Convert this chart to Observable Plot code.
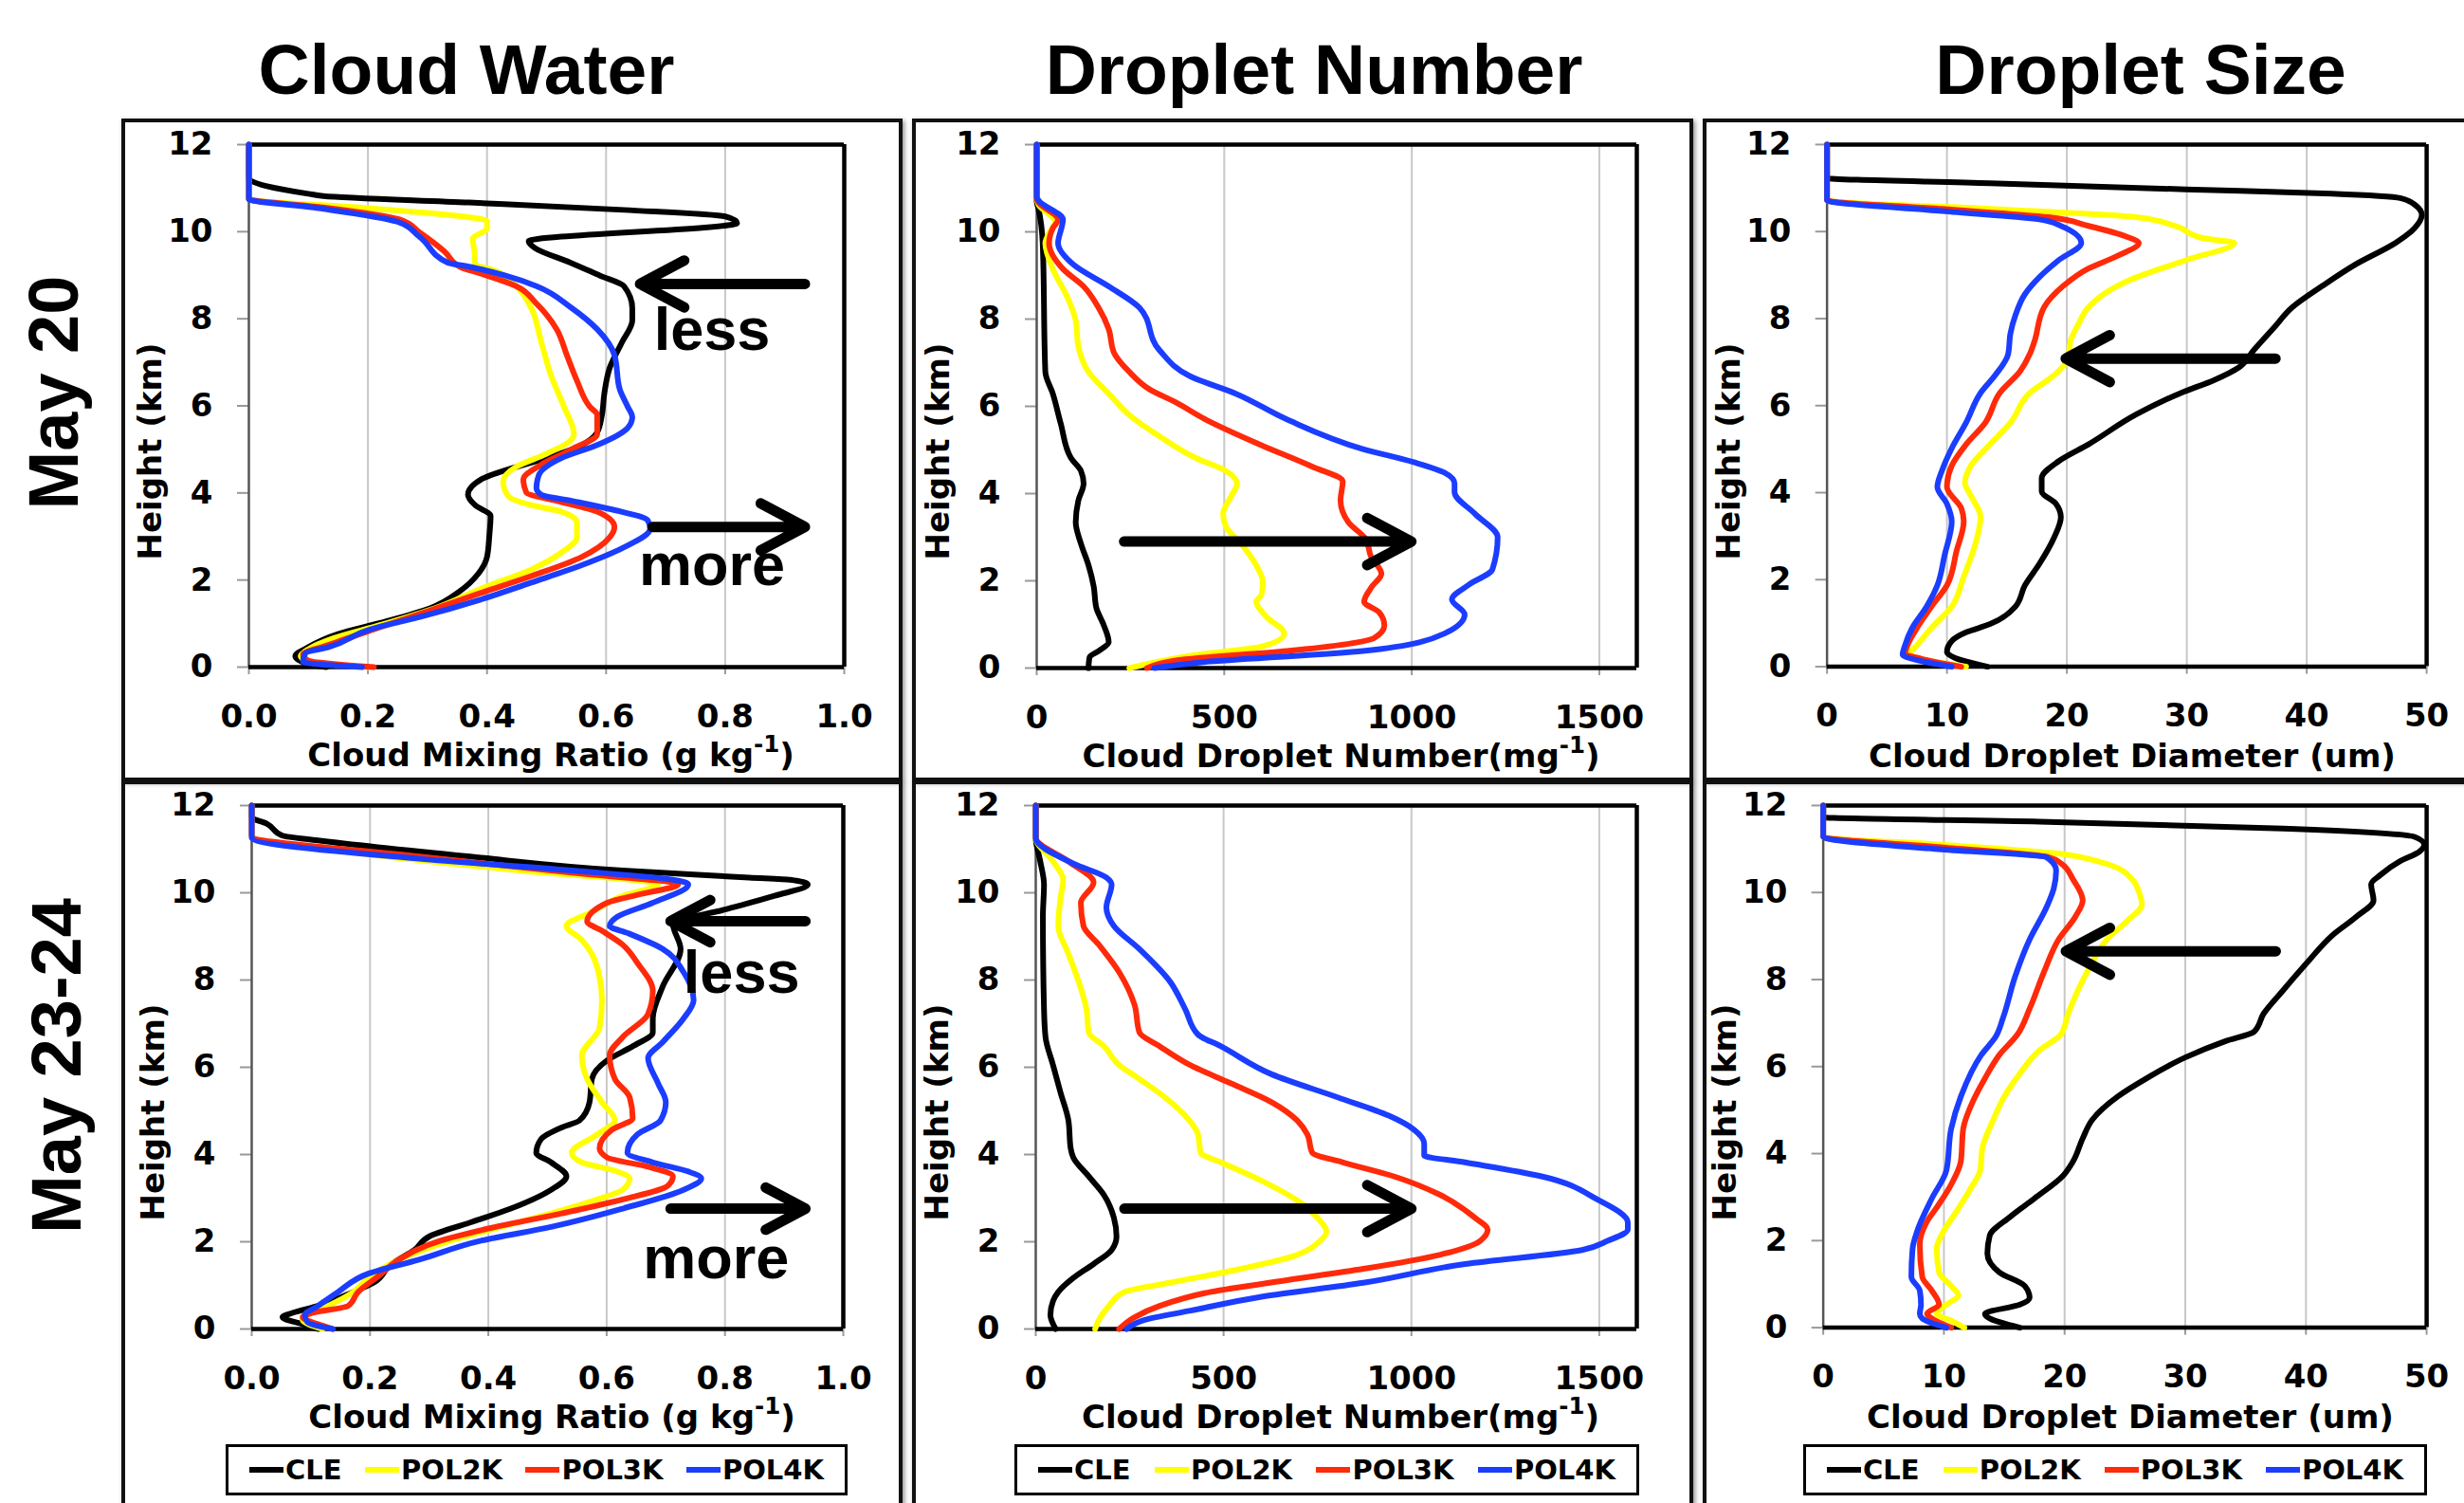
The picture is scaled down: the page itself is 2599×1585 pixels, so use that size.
<!DOCTYPE html>
<html><head><meta charset="utf-8">
<script src="https://cdn.jsdelivr.net/npm/d3@7"></script>
<script src="https://cdn.jsdelivr.net/npm/@observablehq/plot@0.6"></script>
<style>
html,body{margin:0;padding:0;background:#fff;}
body{width:2599px;height:1585px;overflow:hidden;position:relative;font-family:"Liberation Sans",Arial,sans-serif;color:#000;}
.frame{position:absolute;border:4px solid #111;box-sizing:border-box;box-shadow:2px 2px 5px rgba(0,0,0,0.45);}
.coltitle{position:absolute;font-weight:bold;font-size:75px;line-height:1;transform:translateX(-50%);white-space:nowrap;}
.rowlabel{position:absolute;font-weight:bold;font-size:74px;line-height:1;white-space:nowrap;transform:translate(-50%,-50%) rotate(-90deg);}
.panel{position:absolute;}
.panel svg{overflow:visible;}
.xtitle,.ytitle{position:absolute;font-family:"DejaVu Sans",sans-serif;font-weight:bold;font-size:34px;line-height:1;white-space:nowrap;}
.xtitle{transform:translate(-50%,-50%);}
.ytitle{transform:translate(-50%,-50%) rotate(-90deg);}
.xtitle sup{font-size:0.72em;vertical-align:0.6em;line-height:0;}
.legend{position:absolute;border:3px solid #000;box-sizing:border-box;display:flex;align-items:center;justify-content:space-between;padding:0 22px;font-family:"DejaVu Sans",sans-serif;font-weight:bold;font-size:29px;}
.legend .item{display:flex;align-items:center;white-space:nowrap;}
.legend .sw{display:inline-block;width:36px;height:6px;margin-right:2px;}
</style>
</head><body>
<script>
// ---------------- data ----------------
const seriesNames = ["CLE", "POL2K", "POL3K", "POL4K"];
const seriesColors = ["#000000", "#ffff00", "#ff2a0a", "#1b3dff"];
const columnTitles = ["Cloud Water", "Droplet Number", "Droplet Size"];
const rowLabels = ["May 20", "May 23-24"];
const xTitles = ["Cloud Mixing Ratio (g kg<sup>-1</sup>)", "Cloud Droplet Number(mg<sup>-1</sup>)", "Cloud Droplet Diameter (um)"];
const yTitle = "Height (km)";
const heightTicks = [0, 2, 4, 6, 8, 10, 12];
const cwTicks = [0, 0.2, 0.4, 0.6, 0.8, 1.0];
const dnTicks = [0, 500, 1000, 1500];
const dsTicks = [0, 10, 20, 30, 40, 50];

// May 20 – cloud water (g/kg) : [value, height km]
const cw20_CLE = [[0,12],[0,11.23],[0.10,10.87],[0.125,10.82],[0.37,10.67],[0.63,10.5],[0.80,10.35],[0.82,10.2],[0.47,9.78],[0.48,9.63],[0.54,9.29],[0.59,8.99],[0.63,8.75],[0.644,8.25],[0.644,7.96],[0.627,7.47],[0.606,6.87],[0.597,6.28],[0.593,5.79],[0.585,5.39],[0.559,5.10],[0.50,4.80],[0.44,4.56],[0.39,4.31],[0.368,3.96],[0.38,3.72],[0.406,3.47],[0.404,3.03],[0.40,2.53],[0.385,2.14],[0.355,1.75],[0.304,1.35],[0.219,1.01],[0.15,0.76],[0.10,0.46],[0.078,0.25],[0.10,0.07],[0.13,0]];
const cw20_POL2K = [[0,12],[0,10.75],[0.2,10.54],[0.37,10.33],[0.40,10.25],[0.40,10.08],[0.376,9.83],[0.379,9.54],[0.38,9.24],[0.406,9.14],[0.449,8.75],[0.474,8.25],[0.491,7.47],[0.508,6.68],[0.529,5.99],[0.546,5.35],[0.54,5.2],[0.50,4.9],[0.449,4.6],[0.427,4.26],[0.436,3.92],[0.474,3.72],[0.525,3.57],[0.551,3.32],[0.551,2.98],[0.525,2.63],[0.474,2.24],[0.397,1.84],[0.312,1.35],[0.219,0.96],[0.142,0.66],[0.10,0.41],[0.087,0.25],[0.10,0.12],[0.2,0]];
const cw20_POL3K = [[0,12],[0,10.75],[0.117,10.57],[0.253,10.28],[0.287,9.98],[0.329,9.54],[0.355,9.19],[0.389,9.04],[0.449,8.75],[0.483,8.35],[0.517,7.76],[0.534,7.17],[0.551,6.58],[0.572,5.99],[0.585,5.79],[0.585,5.35],[0.542,5.0],[0.491,4.65],[0.461,4.31],[0.466,4.01],[0.517,3.82],[0.585,3.57],[0.614,3.22],[0.606,2.98],[0.559,2.53],[0.474,2.09],[0.389,1.70],[0.304,1.30],[0.219,0.91],[0.134,0.51],[0.091,0.29],[0.10,0.15],[0.21,0]];
const cw20_POL4K = [[0,12],[0,10.75],[0.117,10.54],[0.249,10.23],[0.287,9.88],[0.334,9.29],[0.372,9.19],[0.431,8.99],[0.483,8.75],[0.542,8.25],[0.585,7.76],[0.614,7.17],[0.623,6.38],[0.636,5.99],[0.644,5.74],[0.636,5.49],[0.585,5.10],[0.525,4.80],[0.487,4.41],[0.483,4.11],[0.491,3.96],[0.542,3.82],[0.610,3.62],[0.670,3.37],[0.674,3.18],[0.627,2.73],[0.559,2.34],[0.474,1.94],[0.389,1.55],[0.287,1.15],[0.202,0.86],[0.134,0.46],[0.095,0.32],[0.091,0.12],[0.19,0]];

// May 20 – droplet number (1/mg)
const dn20_CLE = [[0,12],[0,10.7],[5,10.52],[16,9.74],[23,6.79],[43,6.29],[64,5.61],[91,4.82],[118,4.52],[125,4.23],[111,3.84],[104,3.34],[118,2.85],[138,2.36],[152,1.87],[159,1.38],[179,0.98],[192,0.59],[165,0.39],[141,0.25],[138,0]];
const dn20_POL2K = [[0,12],[0,10.75],[5,10.62],[50,10.23],[37,10.03],[23,9.74],[43,9.15],[84,8.46],[104,7.97],[111,7.38],[138,6.79],[192,6.29],[247,5.80],[328,5.31],[423,4.82],[504,4.52],[534,4.23],[518,3.93],[497,3.54],[504,3.25],[545,2.85],[585,2.36],[603,1.97],[599,1.67],[585,1.52],[612,1.18],[660,0.79],[599,0.49],[423,0.30],[247,0]];
const dn20_POL3K = [[0,12],[0,10.75],[5,10.67],[57,10.28],[43,10.08],[33,9.74],[70,9.15],[125,8.75],[165,8.26],[192,7.77],[206,7.23],[247,6.79],[301,6.39],[369,6.10],[450,5.70],[599,5.11],[734,4.62],[816,4.28],[810,3.84],[831,3.34],[878,2.95],[891,2.56],[919,2.16],[894,1.87],[873,1.52],[913,1.28],[927,0.98],[900,0.69],[667,0.39],[396,0.20],[294,0]];
const dn20_POL4K = [[0,12],[0,10.8],[5,10.72],[70,10.28],[57,9.74],[98,9.25],[192,8.75],[274,8.26],[328,7.28],[409,6.69],[531,6.29],[667,5.70],[870,5.02],[1005,4.72],[1087,4.48],[1114,4.23],[1114,4.03],[1168,3.54],[1229,3.0],[1215,2.26],[1154,1.92],[1107,1.57],[1141,1.23],[1087,0.79],[870,0.39],[463,0.15],[314,0]];

// May 20 – droplet diameter (um)
const ds20_CLE = [[0,12],[0,11.23],[13.6,11.11],[29.9,10.97],[42.1,10.87],[47.8,10.77],[49.0,10.62],[49.6,10.38],[49.0,10.08],[47.4,9.74],[44.1,9.25],[41.3,8.75],[38.8,8.26],[37.2,7.77],[35.6,7.28],[34.4,6.89],[32.3,6.59],[29.5,6.29],[25.8,5.80],[21.8,5.11],[19.3,4.72],[17.9,4.33],[17.9,4.03],[19.1,3.74],[19.5,3.44],[18.9,2.95],[17.7,2.36],[16.5,1.87],[15.7,1.38],[13.6,0.98],[11.6,0.79],[10.4,0.59],[10.0,0.34],[11.2,0.15],[13.4,0]];
const ds20_POL2K = [[0,12],[0,10.72],[13.6,10.52],[25.8,10.33],[29.0,10.13],[31.5,9.84],[33.96,9.74],[29.9,9.34],[25.8,8.95],[24.2,8.75],[21.8,8.26],[20.96,7.87],[20.3,7.48],[20.1,7.08],[18.9,6.69],[16.9,6.29],[15.3,5.61],[13.6,5.11],[12.0,4.62],[11.5,4.23],[12.0,3.93],[12.8,3.44],[12.4,2.85],[11.4,2.07],[10.4,1.38],[8.7,0.89],[7.5,0.49],[6.9,0.30],[8.3,0.15],[11.6,0]];
const ds20_POL3K = [[0,12],[0,10.72],[9.6,10.52],[18.5,10.33],[21.8,10.13],[25.0,9.88],[26.0,9.74],[24.2,9.44],[21.8,9.15],[19.7,8.75],[18.1,8.26],[17.3,7.48],[16.9,7.18],[16.1,6.79],[14.4,6.29],[13.2,5.61],[11.6,5.11],[10.4,4.62],[10.0,4.13],[11.2,3.64],[11.4,3.34],[10.8,2.66],[10.0,1.87],[8.7,1.38],[7.5,0.89],[6.7,0.49],[6.5,0.30],[7.9,0.18],[11.2,0]];
const ds20_POL4K = [[0,12],[0,10.72],[9.6,10.47],[17.7,10.28],[19.5,10.13],[21.2,9.74],[19.3,9.34],[17.7,8.95],[16.5,8.56],[15.7,8.07],[15.3,7.67],[15.1,7.18],[14.0,6.69],[12.8,6.29],[11.6,5.61],[10.4,5.02],[9.6,4.52],[9.2,4.13],[10.0,3.74],[10.4,3.34],[9.8,2.56],[9.2,1.87],[8.3,1.38],[7.1,0.89],[6.5,0.49],[6.3,0.28],[7.5,0.15],[10.4,0]];

// May 23-24 – cloud water
const cw23_CLE = [[0,12],[0,11.73],[0.026,11.58],[0.052,11.31],[0.112,11.2],[0.369,10.83],[0.627,10.51],[0.841,10.35],[0.91,10.30],[0.94,10.19],[0.884,9.93],[0.798,9.61],[0.712,9.29],[0.725,8.71],[0.695,7.86],[0.678,7.12],[0.678,6.80],[0.644,6.48],[0.601,6.16],[0.575,5.73],[0.571,5.20],[0.554,4.78],[0.524,4.62],[0.489,4.35],[0.481,4.04],[0.506,3.82],[0.532,3.50],[0.506,3.19],[0.438,2.76],[0.369,2.44],[0.30,2.12],[0.275,1.81],[0.236,1.49],[0.206,1.06],[0.172,0.85],[0.112,0.53],[0.069,0.37],[0.052,0.27],[0.086,0.11],[0.112,0]];
const cw23_POL2K = [[0,12],[0,11.31],[0.197,10.88],[0.455,10.51],[0.687,10.19],[0.627,9.93],[0.575,9.56],[0.532,9.24],[0.558,8.92],[0.575,8.60],[0.588,8.07],[0.592,7.54],[0.588,6.90],[0.558,6.27],[0.567,5.73],[0.592,5.20],[0.614,4.78],[0.584,4.46],[0.541,4.04],[0.558,3.82],[0.618,3.61],[0.639,3.45],[0.627,3.19],[0.584,2.97],[0.506,2.65],[0.421,2.34],[0.335,2.02],[0.249,1.59],[0.197,1.17],[0.172,0.85],[0.129,0.53],[0.094,0.32],[0.086,0.21],[0.12,0]];
const cw23_POL3K = [[0,12],[0,11.31],[0.283,10.83],[0.541,10.46],[0.721,10.19],[0.661,9.98],[0.601,9.77],[0.567,9.34],[0.592,9.13],[0.627,8.81],[0.652,8.39],[0.678,7.75],[0.67,7.22],[0.627,6.69],[0.605,6.27],[0.614,5.73],[0.639,5.31],[0.644,4.83],[0.609,4.57],[0.588,4.14],[0.601,3.93],[0.67,3.72],[0.712,3.50],[0.704,3.29],[0.627,2.97],[0.524,2.65],[0.412,2.34],[0.318,2.02],[0.249,1.59],[0.215,1.22],[0.18,0.85],[0.163,0.53],[0.103,0.37],[0.086,0.27],[0.112,0.11],[0.137,0]];
const cw23_POL4K = [[0,12],[0,11.26],[0.283,10.78],[0.541,10.51],[0.712,10.30],[0.738,10.19],[0.678,9.77],[0.618,9.45],[0.605,9.24],[0.635,9.08],[0.695,8.71],[0.73,8.18],[0.747,7.54],[0.73,7.12],[0.695,6.58],[0.67,6.21],[0.687,5.63],[0.70,5.20],[0.691,4.78],[0.652,4.46],[0.635,4.04],[0.678,3.82],[0.738,3.61],[0.76,3.45],[0.73,3.19],[0.627,2.76],[0.506,2.34],[0.386,2.02],[0.283,1.59],[0.197,1.27],[0.146,0.85],[0.112,0.53],[0.09,0.32],[0.094,0.16],[0.137,0]];

// May 23-24 – droplet number
const dn23_CLE = [[0,12],[0,11.26],[12,10.72],[22,10.19],[19,9.45],[22,7.33],[26,6.69],[46,6.05],[66,5.42],[87,4.78],[93,4.14],[100,3.93],[141,3.50],[181,3.08],[208,2.55],[215,2.12],[202,1.81],[154,1.49],[100,1.17],[60,0.85],[46,0.64],[39,0.32],[53,0]];
const dn23_POL2K = [[0,12],[0,11.26],[46,10.72],[73,10.30],[66,9.88],[60,9.24],[87,8.60],[114,7.97],[135,7.33],[141,6.80],[182,6.48],[222,6.05],[276,5.73],[344,5.31],[398,4.89],[432,4.46],[439,4.04],[493,3.82],[601,3.40],[709,2.87],[750,2.55],[774,2.23],[757,2.02],[696,1.70],[547,1.38],[357,1.06],[236,0.85],[195,0.53],[168,0.21],[158,0]];
const dn23_POL3K = [[0,12],[0,11.26],[87,10.72],[154,10.24],[120,9.77],[127,9.24],[168,8.81],[222,8.18],[263,7.43],[276,6.80],[330,6.48],[411,6.05],[520,5.63],[628,5.20],[696,4.78],[723,4.46],[736,4.04],[818,3.82],[953,3.50],[1075,3.08],[1169,2.55],[1203,2.28],[1183,2.02],[1075,1.70],[872,1.38],[669,1.12],[466,0.85],[330,0.53],[263,0.27],[222,0]];
const dn23_POL4K = [[0,12],[0,11.26],[100,10.67],[188,10.35],[202,10.19],[188,9.66],[208,9.24],[276,8.71],[357,7.97],[398,7.33],[432,6.75],[493,6.48],[628,5.84],[804,5.31],[940,4.89],[1007,4.57],[1034,4.25],[1034,3.98],[1143,3.82],[1346,3.50],[1495,2.97],[1576,2.44],[1576,2.28],[1522,2.02],[1454,1.81],[1143,1.49],[872,1.06],[601,0.74],[412,0.42],[290,0.21],[242,0]];

// May 23-24 – droplet diameter
const ds23_CLE = [[0,12],[0,11.73],[17.9,11.63],[38.1,11.47],[49.0,11.28],[49.8,11.10],[49.4,10.94],[47.8,10.72],[46.2,10.41],[45.4,10.19],[45.6,9.82],[44.2,9.45],[42.2,9.02],[40.1,8.39],[38.1,7.75],[36.5,7.22],[35.7,6.80],[33.3,6.58],[30.0,6.21],[26.8,5.73],[24.4,5.31],[22.3,4.78],[21.5,4.35],[20.7,3.82],[19.9,3.50],[17.5,2.97],[15.5,2.55],[13.8,2.12],[13.6,1.70],[14.6,1.27],[16.7,0.96],[17.1,0.69],[16.3,0.53],[13.4,0.32],[13.8,0.21],[16.3,0]];
const ds23_POL2K = [[0,12],[0,11.28],[9.8,11.10],[19.9,10.88],[22.7,10.72],[23.9,10.62],[25.6,10.30],[26.2,9.98],[26.4,9.72],[25.2,9.35],[23.5,8.92],[22.3,8.39],[21.1,7.75],[20.3,7.22],[19.7,6.74],[17.9,6.37],[16.3,5.84],[15.0,5.31],[14.1,4.78],[13.2,4.14],[13.0,3.61],[12.2,3.19],[11.0,2.65],[10.0,2.23],[9.4,1.81],[9.6,1.27],[10.6,0.96],[11.2,0.74],[10.2,0.53],[9.4,0.32],[10.6,0.16],[11.7,0]];
const ds23_POL3K = [[0,12],[0,11.28],[9.8,11.04],[18.7,10.81],[19.7,10.67],[20.7,10.30],[21.5,9.82],[20.9,9.45],[19.5,8.92],[18.3,8.18],[17.1,7.33],[16.1,6.74],[14.6,6.27],[13.4,5.73],[12.4,5.20],[11.6,4.57],[11.4,3.82],[10.6,3.29],[9.4,2.76],[8.6,2.44],[8.0,1.91],[8.2,1.17],[9.0,0.85],[9.6,0.53],[8.6,0.32],[9.0,0.21],[10.6,0]];
const ds23_POL4K = [[0,12],[0,11.28],[9.8,10.99],[18.5,10.81],[19.3,10.51],[19.1,10.09],[18.5,9.66],[17.1,8.92],[15.9,8.07],[14.9,7.12],[14.3,6.69],[13.1,6.27],[11.4,5.31],[10.6,4.57],[10.2,3.61],[9.0,2.97],[7.8,2.23],[7.4,1.81],[7.3,1.17],[8.0,0.85],[8.1,0.53],[8.0,0.32],[8.2,0.21],[10.2,0]];

// annotation arrows [from x, to x, height] and labels [text, x, baseline height]
const cw20_arrows = [[0.934, 0.657, 8.80], [0.678, 0.934, 3.22]];
const cw20_notes = [["less", 0.778, 7.29], ["more", 0.778, 1.89]];
const dn20_arrows = [[233, 999, 2.90]];
const ds20_arrows = [[37.4, 19.9, 7.08]];
const cw23_arrows = [[0.936, 0.708, 9.35], [0.708, 0.936, 2.76]];
const cw23_notes = [["less", 0.828, 7.70], ["more", 0.785, 1.17]];
const dn23_arrows = [[236, 1000, 2.76]];
const ds23_arrows = [[37.5, 20.1, 8.65]];

// ---------------- layout ----------------
const frames = [
  {left:128, top:125, width:824, height:699}, {left:962, top:125, width:824, height:699}, {left:1796, top:125, width:830, height:699},
  {left:128, top:823, width:824, height:790}, {left:962, top:823, width:824, height:790}, {left:1796, top:823, width:830, height:790}
];
const plotRects = [
  {x0:262, x1:890, y0:152, y1:703}, {x0:1093, x1:1726, y0:152, y1:704}, {x0:1927, x1:2561, y0:152, y1:704},
  {x0:265, x1:889, y0:849, y1:1401}, {x0:1092, x1:1726, y0:849, y1:1401}, {x0:1923, x1:2561, y0:849, y1:1401}
];
const legendBoxes = [null, null, null, {left:238, width:656}, {left:1070, width:659}, {left:1902, width:658}];

const panels = [
  {lines:[cw20_CLE,cw20_POL2K,cw20_POL3K,cw20_POL4K], xmax:1.0, ticks:cwTicks, fmt:d3.format(".1f"), arrows:cw20_arrows, notes:cw20_notes, col:0},
  {lines:[dn20_CLE,dn20_POL2K,dn20_POL3K,dn20_POL4K], xmax:1600, ticks:dnTicks, fmt:d3.format("d"), arrows:dn20_arrows, notes:[], col:1},
  {lines:[ds20_CLE,ds20_POL2K,ds20_POL3K,ds20_POL4K], xmax:50, ticks:dsTicks, fmt:d3.format("d"), arrows:ds20_arrows, notes:[], col:2},
  {lines:[cw23_CLE,cw23_POL2K,cw23_POL3K,cw23_POL4K], xmax:1.0, ticks:cwTicks, fmt:d3.format(".1f"), arrows:cw23_arrows, notes:cw23_notes, col:0},
  {lines:[dn23_CLE,dn23_POL2K,dn23_POL3K,dn23_POL4K], xmax:1600, ticks:dnTicks, fmt:d3.format("d"), arrows:dn23_arrows, notes:[], col:1},
  {lines:[ds23_CLE,ds23_POL2K,ds23_POL3K,ds23_POL4K], xmax:50, ticks:dsTicks, fmt:d3.format("d"), arrows:ds23_arrows, notes:[], col:2}
];

function addDiv(cls, css, html) {
  const d = document.createElement("div");
  d.className = cls;
  Object.assign(d.style, css);
  if (html !== undefined) d.innerHTML = html;
  document.body.appendChild(d);
  return d;
}

// frames
frames.forEach(f => addDiv("frame", {left:f.left+"px", top:f.top+"px", width:f.width+"px", height:f.height+"px"}));

// column titles & row labels
const colCenters = [492, 1386, 2258];
columnTitles.forEach((t, i) => addDiv("coltitle", {left:colCenters[i]+"px", top:"36px"}, t));
addDiv("rowlabel", {left:"57px", top:"414px"}, rowLabels[0]);
addDiv("rowlabel", {left:"60px", top:"1124px"}, rowLabels[1]);

const mL = 150, mR = 40, mT = 30, mB = 120;
const fontAxis = {fontFamily:"DejaVu Sans", fontWeight:"bold", fontSize:34};

panels.forEach((p, k) => {
  const r = plotRects[k];
  const rows = [];
  seriesNames.forEach((s, i) => p.lines[i].forEach(([v, h]) => rows.push({series:s, v, h})));
  const arrows = p.arrows.map(([a, b, h]) => ({x1:a, x2:b, h}));
  const notes = p.notes.map(([t, x, h]) => ({t, x, h}));
  const chart = Plot.plot({
    width: (r.x1 - r.x0) + mL + mR,
    height: (r.y1 - r.y0) + mT + mB,
    marginLeft: mL, marginRight: mR, marginTop: mT, marginBottom: mB,
    style: {fontFamily:"DejaVu Sans", fontWeight:"bold", fontSize:"34px", color:"#000", background:"transparent", overflow:"visible"},
    x: {domain:[0, p.xmax]},
    y: {domain:[0, 12]},
    color: {domain: seriesNames, range: seriesColors},
    marks: [
      Plot.gridX(p.ticks.filter(t => t > 0 && t < p.xmax), {stroke:"#c8c8c8", strokeOpacity:1, strokeWidth:2}),
      Plot.axisX(p.ticks, {tickSize:8, tickPadding:31, stroke:"#999", strokeWidth:2, tickFormat:p.fmt, label:null, ...fontAxis}),
      Plot.axisY(heightTicks, {tickSize:12, tickPadding:26, stroke:"#999", strokeWidth:2, label:null, ...fontAxis}),
      Plot.ruleX([0], {stroke:"#555", strokeWidth:2.5}),
      Plot.ruleY([0, 12], {stroke:"#000", strokeWidth:4.5}),
      Plot.ruleX([p.xmax], {stroke:"#000", strokeWidth:4.5, y1:0, y2:12}),
      Plot.line(rows, {x:"v", y:"h", z:"series", stroke:"series", strokeWidth:6, curve:"monotone-y", strokeLinejoin:"round"}),
      Plot.arrow(arrows, {x1:"x1", x2:"x2", y1:"h", y2:"h", stroke:"#000", strokeWidth:11, headLength:7.2, headAngle:56, strokeLinecap:"round"}),
      Plot.text(notes, {x:"x", y:"h", text:"t", fontFamily:"Liberation Sans", fontWeight:"bold", fontSize:63, lineAnchor:"bottom", textAnchor:"middle", fill:"#000"})
    ]
  });
  const holder = addDiv("panel", {left:(r.x0 - mL)+"px", top:(r.y0 - mT)+"px"});
  holder.appendChild(chart);

  // axis titles
  addDiv("xtitle", {left:((r.x0 + r.x1)/2 + 5)+"px", top:(r.y1 + 93)+"px"}, xTitles[p.col]);
  addDiv("ytitle", {left:(r.x0 - 104)+"px", top:((r.y0 + r.y1)/2 + 48)+"px"}, yTitle);

  // legend (bottom row)
  const lb = legendBoxes[k];
  if (lb) {
    const lg = addDiv("legend", {left:lb.left+"px", top:"1523px", width:lb.width+"px", height:"54px"});
    seriesNames.forEach((s, i) => {
      const it = document.createElement("div");
      it.className = "item";
      it.innerHTML = `<span class="sw" style="background:${seriesColors[i]}"></span><span>${s}</span>`;
      lg.appendChild(it);
    });
  }
});
</script>
</body></html>
